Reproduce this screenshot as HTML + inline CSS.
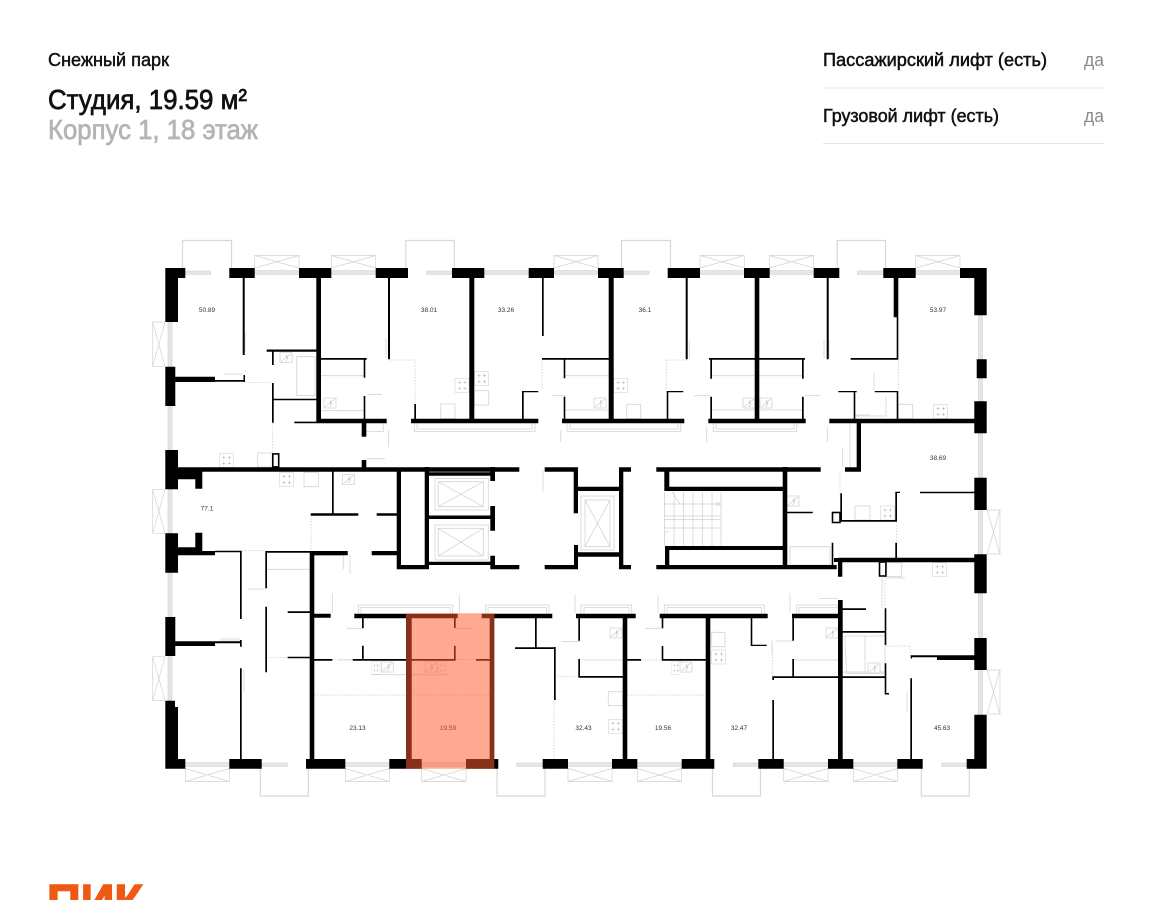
<!DOCTYPE html>
<html lang="ru"><head><meta charset="utf-8"><title>Студия, 19.59 м²</title>
<style>html,body{margin:0;padding:0;background:#fff}svg{display:block}
text{font-family:"Liberation Sans","Noto Sans CJK SC",sans-serif}
.l{font-size:6.5px;fill:#333;text-anchor:middle}
</style></head><body>
<svg width="1152" height="900" viewBox="0 0 1152 900" xmlns="http://www.w3.org/2000/svg">
<defs>
<g id="s"><rect width="14" height="14" fill="#fff" stroke="#d4d4d4" stroke-width=".6"/><path d="M3 4h3M4.500 2.500v3M8.500 4h3M10 2.500v3M3 10h3M4.500 8.500v3M8.500 10h3M10 8.500v3" stroke="#aaa" stroke-width=".5" fill="none"/></g>
<g id="w"><rect width="12" height="10" fill="#fff" stroke="#c8c8c8" stroke-width=".6"/><path d="M1 9L11 1M7 2l-1 3 2 0-2 4" stroke="#aaa" stroke-width=".5" fill="none"/></g>
</defs>
<rect width="1152" height="900" fill="#fff"/>

<!-- header -->
<text x="48" y="66" font-size="18" fill="#111" stroke="#111" stroke-width=".45" textLength="121" lengthAdjust="spacingAndGlyphs">Снежный парк</text>
<text x="48" y="109" font-size="28" fill="#111" stroke="#111" stroke-width=".75" textLength="199" lengthAdjust="spacingAndGlyphs">Студия, 19.59 м²</text>
<text x="48" y="139" font-size="28" fill="#b4b4b4" stroke="#b4b4b4" stroke-width=".75" textLength="210" lengthAdjust="spacingAndGlyphs">Корпус 1, 18 этаж</text>
<text x="823" y="66" font-size="18" fill="#111" stroke="#111" stroke-width=".5" textLength="224" lengthAdjust="spacingAndGlyphs">Пассажирский лифт (есть)</text>
<text x="1084" y="66" font-size="18" fill="#8a8a8a" textLength="20" lengthAdjust="spacingAndGlyphs">да</text>
<rect x="823" y="87.500" width="281" height="1" fill="#e4e4e4"/>
<text x="823" y="122" font-size="18" fill="#111" stroke="#111" stroke-width=".5" textLength="176" lengthAdjust="spacingAndGlyphs">Грузовой лифт (есть)</text>
<text x="1084" y="122" font-size="18" fill="#8a8a8a" textLength="20" lengthAdjust="spacingAndGlyphs">да</text>
<rect x="823" y="143" width="281" height="1" fill="#e4e4e4"/>

<!-- balconies -->
<path fill="none" stroke="#d8d8d8" stroke-width="1.200" d="M182.500 268V240.500H231.500V268M405.800 268V240.500H454.300V268M621.500 268V240.500H670.500V268M837.300 268V240.500H885.500V268M260.300 768V796H308.300V768M497 768V796H545V768M712.500 768V796H760.500V768M921.300 768V796H969.300V768"/>

<!-- X windows -->
<path fill="none" stroke="#d2d2d2" stroke-width=".7" d="
M254.700 268V255.500H299V268M254.700 255.500L299 268M299 255.500L254.700 268
M331.300 268V255.500H375.700V268M331.300 255.500L375.700 268M375.700 255.500L331.300 268
M554 268V255.500H598V268M554 255.500L598 268M598 255.500L554 268
M700 268V255.500H744.300V268M700 255.500L744.300 268M744.300 255.500L700 268
M769.300 268V255.500H813.700V268M769.300 255.500L813.700 268M813.700 255.500L769.300 268
M915.700 268V255.500H960V268M915.700 255.500L960 268M960 255.500L915.700 268
M185.300 768.500V781.500H229.300V768.500M185.300 781.500L229.300 768.500M185.300 768.500L229.300 781.500
M345.300 768.500V781.500H389.300V768.500M345.300 781.500L389.300 768.500M345.300 768.500L389.300 781.500
M421.700 768.500V781.500H466V768.500M421.700 781.500L466 768.500M421.700 768.500L466 781.500
M568 768.500V781.500H612V768.500M568 781.500L612 768.500M568 768.500L612 781.500
M637.300 768.500V781.500H681.700V768.500M637.300 781.500L681.700 768.500M637.300 768.500L681.700 781.500
M783.700 768.500V781.500H828V768.500M783.700 781.500L828 768.500M783.700 768.500L828 781.500
M853.300 768.500V781.500H897.300V768.500M853.300 781.500L897.300 768.500M853.300 768.500L897.300 781.500
M165 322H152.700V366.700H165M152.700 322L165 366.700M165 322L152.700 366.700
M165 489.300H152.700V533.300H165M152.700 489.300L165 533.300M165 489.300L152.700 533.300
M165 656.700H152.700V700.700H165M152.700 656.700L165 700.700M165 656.700L152.700 700.700
M987 510H1000V554H987M1000 510L987 554M987 510L1000 554
M987 670H1000V714H987M1000 670L987 714M987 670L1000 714"/>

<!-- window strips -->
<path fill="#e6e6e6" stroke="#cfcfcf" stroke-width=".6" d="
M185.500 271h25v3.500h-25zM254.700 270.500h44.300v4h-44.300zM331.300 270.500h44.400v4h-44.400zM426.700 271h25.300v3.500h-25.300zM484.300 270.500h44.400v4h-44.400zM554 270.500h44v4h-44zM624 271h25v3.500h-25zM700 270.500h44v4h-44zM769.700 270.500h44v4h-44zM857.300 271h26v3.500h-26zM915.700 270.500h44.300v4h-44.300z
M185.300 762.500h44v4h-44zM261.700 763h25.600v3.500h-25.600zM345.300 762.500h44v4h-44zM421.700 762.500h44.300v4h-44.300zM516.700 763h26v3.500h-26zM568 762.500h44v4h-44zM637.300 762.500h44.400v4h-44.400zM733.300 763h25v3.500h-25zM783.700 762.500h44.300v4h-44.300zM853.300 762.500h44v4h-44zM941.700 763h25v3.500h-25z
M168 322h4v44.700h-4zM168 406h4v44h-4zM168 489.300h4v44h-4zM168 572.700h4v44.300h-4zM168 656h4v44.700h-4z
M978.500 315.300h4v44h-4zM978.500 378.300h4v23h-4zM978.500 433.300h4v44.400h-4zM978.500 510h4v44.300h-4zM978.500 593.300h4v44.700h-4zM978.500 670h4v44.700h-4z"/>

<!-- ledges and fixtures -->
<path fill="none" stroke="#d4d4d4" stroke-width=".8" d="
M414.300 423v8.500H535V423M417 423v6H532V423M366 423v8.500H383.300V423M567 423v8.500H680.700V423M570 423v6H678V423M713.300 423v8.500H796.700V423M716 423v6H794V423
M358.300 613.500V605H452.700V613.500M361 613.500V607.500H450V613.500M485.700 613.500V605H549V613.500M488 613.500V607.500H546.500V613.500M581 613.500V605H631.700V613.500M584 613.500V607.500H629V613.500M664.300 613.500V605H764.300V613.500M667 613.500V607.500H761.500V613.500M796.700 613.500V605H838V613.500M799 613.500V607.500H838
M314 555.500H343.300V569.300M266.700 569.300H310M429 469.500H490M296.700 356.700H315V395.700H296.700ZM321 375.700H364M321 410.700H364M712 375.700H802M712 410H802M565 375.700H609M565 410H609M844.700 636H885V673.300H846.700ZM865 636V673.300M790 546.700H830V565H790ZM843 672H885M371.700 674.700H446.700M583 660H622.700M794 660H838M680 660H706M580 677H622M855 416H886V397
M257.700 453H272V467H257.700ZM304 472.300H318.300V486.700H304ZM474.300 390.700H488.700V405H474.300ZM440.700 404H455V418.700H440.700ZM626.700 404.300H640.700V418.700H626.700ZM898.300 404.300H912.700V418.700H898.300ZM855 506H870V520H855ZM886.700 562.700H901.700V576.700H886.700ZM711.700 632.300H725V646.700H711.700ZM608.300 691.700H622.700V705.700H608.300Z
M386 338V358M689.300 340V359M829 340V358M824 340V358M245 332V352M874 373V390M855 415H870M224 374H243M220 639H240M220 641H240M244 670V692M907 692V712M850 423V467M857 423V467M842.700 448V467M366 458.700H385M388.700 430V447M560.700 430V442M706.700 427V442M827.300 427V442M552 395.700H565M694 395.700H710M805 395.700H820M367 394.300H382M543 470V491.700M350 555V574M248 589H265.700M338 660H352M346.700 628.300H362M455 628.300H472M561.700 641.700H580M645 628.300H661.700M775.700 641H792M772 640V655M819 598.500H838M332.300 593V613M459.300 595V613M575 595V613M658 595V613M790 593V613M905 578H886M882 578V608"/>

<!-- stoves -->
<use href="#s" x="219.300" y="453.300"/><use href="#s" x="279.500" y="472.500"/><use href="#s" x="455" y="378.300"/><use href="#s" x="474.500" y="371.700"/><use href="#s" x="613.500" y="378.300"/><use href="#s" x="933.500" y="404.500"/><use href="#s" x="880.500" y="506"/><use href="#s" x="932.700" y="562.700"/><use href="#s" x="711.500" y="650"/><use href="#s" x="608.500" y="719.300"/>
<g transform="translate(371.700 661.700) scale(.6 .9)"><use href="#s"/></g><g transform="translate(438.300 661.700) scale(.6 .9)"><use href="#s"/></g><g transform="translate(671.700 661.700) scale(.6 .9)"><use href="#s"/></g>
<!-- washers -->
<use href="#w" x="280" y="352.700"/><use href="#w" x="342.500" y="474.500"/><use href="#w" x="324" y="398"/><use href="#w" x="594" y="398"/><use href="#w" x="743" y="398"/><use href="#w" x="760" y="398"/><use href="#w" x="610" y="628"/><use href="#w" x="826" y="628"/><use href="#w" x="868" y="663"/><use href="#w" x="381.500" y="662"/><use href="#w" x="425" y="662"/><use href="#w" x="680" y="662"/><use href="#w" x="787" y="496"/>

<!-- lifts & stairs -->
<path fill="none" stroke="#d4d4d4" stroke-width=".8" d="
M435 478.300H488.300V510H435ZM438.300 481.700H483.300V506.700H438.300ZM438.300 481.700L483.300 506.700M483.300 481.700L438.300 506.700
M435 525H488.300V560H435ZM438.300 528.300H483.300V556H438.300ZM438.300 528.300L483.300 556M483.300 528.300L438.300 556
M581 496H614V550H581ZM585 500H610V546.700H585ZM585 500L610 546.700M610 500L585 546.700
M664.500 492V546M674 492V546M683.500 492V546M693 492V546M702.500 492V546M712 492V546M721 492V546M664.500 504H721M664.500 516H721M664.500 528H721M664.500 519.500H721M672 492L680 504M721 504L716 502M721 504L716 506M664.500 533L669 531"/>

<!-- dotted -->
<path fill="none" stroke="#c6c6c6" stroke-width=".7" stroke-dasharray="1.500 1.500" d="M245 382.300H272M390 360H415V404M272.700 423V453M666.700 360H686.700M666.700 360V390M898.300 360V390M840 471.700V493M542 360V390M311 515V551M241.700 550.700H265.700M268 657.300H287.700M332 659.700H352.700M456 659.700H476M641 660H661.700M314 695H490M627.300 695H705.700M772.300 645V676.700M554 700V759M554 676.700H580M886 646H910M910 646V656.700M885 576.700V608M896.700 521.700V542.700"/>

<!-- walls -->
<path fill="#000" d="
M165.300 268H185.300V278H178V322H165.300ZM229.300 268H254.700V278H229.300ZM299 268H331.300V278H299ZM375.700 268H408V278H375.700ZM452 268H484.300V278H452ZM528.700 268H554V278H528.700ZM598 268H623.700V278H598ZM667.700 268H700V278H667.700ZM744 268H769.700V278H744ZM813.700 268H839.300V278H813.700ZM883.300 268H915.700V278H883.300ZM960 268H986.700V315.300H974.300V278H960Z
M165.300 366.700H175.300V406H165.300ZM175.300 376.700H215V382H175.300ZM215 380H245V381.700H215ZM243.500 375H245V382H243.500ZM165.300 450H178V467.300H202.300V488.700H195.300V479.300H178V489.300H165.300ZM165.300 533.300H178V547.300H195.300V532.700H202.300V551H215V555.300H178V572.700H165.300ZM165.300 617H175.300V641.300H215V646H175.300V656H165.300ZM165.300 700.700H175V707H178V759H185.300V768.700H165.300Z
M976.700 359.300H986.700V378.300H976.700ZM974.300 401.300H986.700V433.300H974.300ZM974.300 477.700H986.700V510H974.300ZM974.300 554.300H986.700V593.300H974.300ZM974.300 638H986.700V670H974.300ZM974.300 714.700H986.700V768.700H966.700V759H974.300Z
M229.300 759H261.700V768.700H229.300ZM306 759H345.300V768.700H306ZM389.300 759H421.700V768.700H389.300ZM466 759H498.300V768.700H466ZM542.700 759H568V768.700H542.700ZM612 759H637.300V768.700H612ZM681.700 759H714.300V768.700H681.700ZM758.300 759H783.700V768.700H758.300ZM828 759H853.300V768.700H828ZM897.300 759H922.700V768.700H897.300Z
M242.700 278H244.700V355H242.700ZM316.300 278H321V418.700H386.700V423.300H366.300V436.700H361.700V423.300H294.300V421.600H316.300Z
M266.700 349.500H316.300V351.700H266.700ZM272 351.700H273.700V365H272ZM272 383H273.700V422.700H272ZM273 398.700H316.300V400.300H273ZM321 358H366.700V359.700H321ZM363.700 358.700H365.300V377.700H363.700ZM363.700 396H365.300V419H363.700ZM361.700 460H366.300V467.300H361.700ZM388 278H390V359.300H388ZM414.300 404H416V419H414.300ZM411 418.700H538.300V423.300H411ZM469.300 278H474.300V419H469.300ZM522 391H523.700V419H522ZM522 391H538.300V392.300H522ZM542 278H543.700V336H542ZM542 358H609V359.700H542ZM563.700 359H565.300V378.300H563.700ZM563.700 396.700H565.300V419H563.700ZM562 418.700H684.300V423.300H562ZM608.700 278H613.700V420H608.700ZM666.700 391H668.300V419H666.700ZM667 391H683.300V392.300H667ZM685.700 278H687.700V359.300H685.700Z
M709 358H805V359.700H709ZM710.300 359H712V378.700H710.300ZM710.300 396.700H712V419H710.300ZM802 359H803.700V378.700H802ZM802 396.700H803.700V419H802ZM754.700 278H759.300V420H754.700ZM708.300 418.700H805.700V423.300H708.300ZM826.700 278H828.700V359.300H826.700ZM850.700 358H898.300V359.700H850.700ZM893.700 278H898.300V317.300H893.700ZM896.700 317H898.300V359H896.700ZM829.300 418.700H974.300V423.300H829.300ZM838.300 391H856.700V392.300H838.300ZM853.700 391H855.300V419H853.700ZM874.700 391H898.300V392.300H874.700ZM896.700 391H898.300V419H896.700ZM856.700 423H861V471.700H845V467.300H856.700Z
M178 467.300H519.300V471.700H178ZM544.700 467.300H578V471.700H544.700ZM573.700 471H578V513.300H573.700ZM574 545H578V569.300H544.700V565H574ZM578 486.700H620V491H578ZM578 552.300H620V556.700H578ZM619 467.300H631V471.700H623.300V565H631V569.300H619ZM656.300 467.300H820.700V471.700H656.300ZM664.300 471.700H669.300V486.700H783V491H664.300ZM782.700 467H787.300V569H782.700ZM665 546H783V550H669.300V565H836.700V569.300H656.300V565H665Z
M831.700 542.700H833.300V566H831.700ZM838.300 557.700H974.300V562.300H842.300V576.700H838V562H834V558H838.300ZM895.300 542.700H897V558H895.300ZM840 520H897V521.700H840ZM840.300 493.300H842V521H840.300ZM895.300 491.700H900V493H897V521H895.300ZM920 491.700H974.300V493.300H920ZM787 511.700H812.700V513.300H787Z
M396.700 471.700H401V565H424.700V467H429V472.300H493.300V475.700H429V515.500H493.300V519H429V561.700H493.300V565H429V569.300H396.700ZM490.300 467H495V481H490.300ZM490.300 506H495V530.700H490.300ZM490.300 555.700H495V565H519.300V569.300H490.300ZM310.700 513.300H358.300V515.700H310.700ZM332 471.700H333.700V515H332ZM376.700 513.300H396.700V515.700H376.700ZM371.700 551H396.700V555.300H371.700ZM310 551H347.700V555.300H310ZM309.700 551H314.300V759H309.700Z
M215 550.700H241.700V552.300H215ZM240 550.700H241.700V619H240ZM265.700 551H310V552.700H265.700ZM265.300 551H267V588.300H265.300ZM265.300 606.700H267V672.300H265.300ZM287.700 611.300H310V613H287.700ZM314 613.700H330.700V617.700H314ZM287.700 656.700H310V658.300H287.700ZM314 659H332.300V660.700H314ZM215 641.300H241.700V643.300H215ZM240 640H241.700V646.700H240ZM240 668.300H241.700V759H240Z
M354.300 613.700H457.700V618.300H354.300ZM481.700 613.700H552.300V618.300H481.700ZM362 618H363.700V628.300H362ZM362 645.700H363.700V660H362ZM352.700 659H406.700V660.700H352.700ZM406 613.700H411.700V759H406ZM489.700 613.700H494.300V759H489.700ZM411.700 659H455.700V660.700H411.700ZM454 618H455.700V628H454ZM454 645.700H455.700V660H454ZM476 659H490V660.700H476ZM535 618H536.700V647.300H535ZM515 647.300H555.700V649H515ZM554 647H555.700V700H554Z
M576 613.700H635.700V618.300H576ZM578.300 618H580V640.700H578.300ZM578.300 659H580V677.700H578.300ZM578.300 676H622.700V677.700H578.300ZM622.700 618H627.300V759H622.700ZM627.300 659H641V660.700H627.300ZM659.700 613.700H767.700V618.300H659.700ZM661.700 618H663.300V628.300H661.700ZM661.700 646H663.300V660H661.700ZM661.700 659H706V660.700H661.700ZM705.700 618H710.300V759H705.700ZM750.700 618H752.300V645.700H750.700ZM750.700 644.700H766.700V646H750.700ZM772.300 676.300H840V678H774V680H772.300ZM772.300 700H774V759H772.300ZM792 613.700H838.300V618.300H792ZM792.300 618H794V640.700H792.300ZM792.300 659H794V677H792.300ZM838 600H842.700V759H838ZM842.700 608.300H866V610H842.700ZM842.700 631H886V632.700H842.700ZM842.700 676.300H886V678H842.700ZM884.700 608.300H886.300V645H884.700ZM884.700 663.300H886.300V693H889V694.500H884.700ZM910.300 678.300H912V759H910.300ZM910.700 655.300H937V657.300H912V658.500H910.700ZM937 655.300H974.300V660H937Z"/>
<rect x="272.800" y="453.900" width="5.900" height="13" fill="none" stroke="#000" stroke-width="1.600"/>
<rect x="879.500" y="562" width="6.400" height="14" fill="none" stroke="#000" stroke-width="1.600"/>
<rect x="832.500" y="512.500" width="7.500" height="10" fill="none" stroke="#000" stroke-width="1.600"/>

<!-- labels -->
<text class="l" x="207" y="312">50.89</text>
<text class="l" x="429" y="312">38.01</text>
<text class="l" x="506" y="312">33.26</text>
<text class="l" x="645" y="312">36.1</text>
<text class="l" x="938" y="312">53.97</text>
<text class="l" x="938" y="460">38.69</text>
<text class="l" x="207" y="510.500">77.1</text>
<text class="l" x="357.500" y="730">23.13</text>
<text class="l" x="448" y="730">19.59</text>
<text class="l" x="583.500" y="730">32.43</text>
<text class="l" x="663" y="730">19.56</text>
<text class="l" x="739" y="730">32.47</text>
<text class="l" x="942" y="730">45.63</text>

<!-- highlighted apartment -->
<rect x="406" y="613.300" width="88.300" height="155.400" fill="#ff5b31" fill-opacity=".53"/>

<!-- logo -->
<text x="47" y="917" font-size="46" font-weight="700" fill="#ee5a14" stroke="#ee5a14" stroke-width="1.500" textLength="96" lengthAdjust="spacingAndGlyphs">ПИК</text>
</svg>
</body></html>
